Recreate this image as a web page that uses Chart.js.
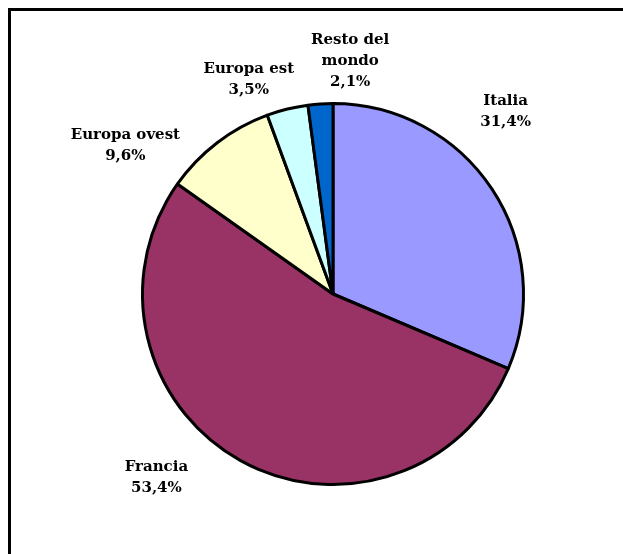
<!DOCTYPE html>
<html>
<head>
<meta charset="utf-8">
<script src="https://cdn.jsdelivr.net/npm/chart.js@4.4.0/dist/chart.umd.min.js"></script>
<style>
  html, body { margin: 0; padding: 0; background: #fff; overflow: hidden; }
  #wrap { position: relative; width: 623px; height: 554px; }
  #frame { position: absolute; left: 8px; top: 8px; width: 700px; height: 700px; border: 3px solid #000; box-sizing: border-box; }
  #c { position: absolute; left: 0; top: 0; }
</style>
</head>
<body>
<div id="wrap">
  <div id="frame"></div>
  <canvas id="c" width="623" height="554"></canvas>
</div>
<script>
// Quote per area geografica (%)
const categories = ['Italia', 'Francia', 'Europa ovest', 'Europa est', 'Resto del mondo'];
const labelLines = [['Italia'], ['Francia'], ['Europa ovest'], ['Europa est'], ['Resto del', 'mondo']];
const values = [31.4, 53.4, 9.6, 3.5, 2.1];
const colors = ['#9999FF', '#993366', '#FFFFCC', '#CCFFFF', '#0066CC'];

// where each label sits, relative to the pie centre, in units of the radius
const labelPos = [[0.906, -0.958], [-0.927, 0.964], [-1.09, -0.78], [-0.442, -1.125], [0.09, -1.225]];

const fmt = v => v.toFixed(1).replace('.', ',') + '%';

const sliceLabels = {
  id: 'sliceLabels',
  afterDatasetsDraw(chart) {
    const ctx = chart.ctx;
    const meta = chart.getDatasetMeta(0);
    const arc = meta.data[0];
    const cx = arc.x, cy = arc.y, r = arc.outerRadius;
    ctx.save();
    ctx.font = 'bold 15px "DejaVu Serif", serif';
    ctx.fillStyle = '#000';
    ctx.textAlign = 'center';
    ctx.textBaseline = 'middle';
    const lh = 21;
    meta.data.forEach((el, i) => {
      const lines = labelLines[i].concat([fmt(values[i])]);
      const x = cx + labelPos[i][0] * r;
      const y = cy + labelPos[i][1] * r;
      const top = y - (lines.length - 1) * lh / 2;
      lines.forEach((t, k) => ctx.fillText(t, x, top + k * lh));
    });
    ctx.restore();
  }
};

new Chart(document.getElementById('c'), {
  type: 'pie',
  data: {
    labels: categories,
    datasets: [{
      data: values,
      backgroundColor: colors,
      borderColor: '#000',
      borderWidth: 3
    }]
  },
  options: {
    responsive: false,
    animation: false,
    layout: { padding: { left: 141, right: 98, top: 102, bottom: 68 } },
    plugins: {
      legend: { display: false },
      tooltip: { enabled: false }
    }
  },
  plugins: [sliceLabels]
});
</script>
</body>
</html>
